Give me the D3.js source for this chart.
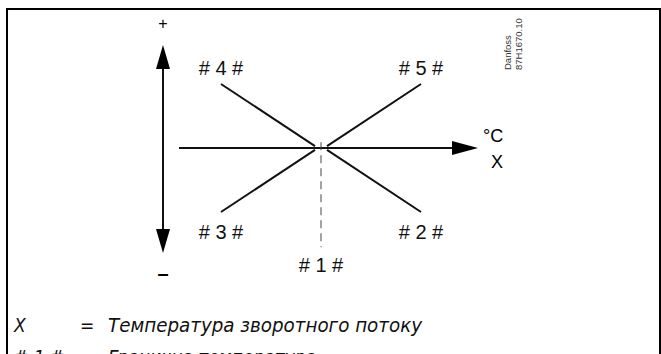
<!DOCTYPE html>
<html>
<head>
<meta charset="utf-8">
<script src="https://cdn.jsdelivr.net/npm/d3@7"></script>
<style>
  body { margin: 0; background: #fff; }
  svg { display: block; }
</style>
</head>
<body>
<div id="chart"></div>
<script>
// diagram values, in plot units (centre of the cross = 0,0)
const caseLabels = ["# 1 #", "# 2 #", "# 3 #", "# 4 #", "# 5 #"];
const caseLabelX = [0, 1, -1, -1, 1];
const caseLabelY = [-1.83, -1.31, -1.31, 1.25, 1.25];

// slope lines for #2..#5 : outer end -> inner end
const slopeOuterX = [1, -1, -1, 1];
const slopeOuterY = [-1, -1, 1, 1];
const slopeInnerX = [0.06, -0.06, -0.06, 0.06];
const slopeInnerY = [-0.03, -0.03, 0.03, 0.03];

const xAxisRange = [-1.42, 1.57];   // horizontal arrow (temperature)
const yAxisPos = -1.58;             // vertical arrow position
const yAxisRange = [-1.64, 1.61];
const dashRange = [0.09, -1.55];    // dashed line under #1
const signLabels = ["+", "–"];
const signY = [1.94, -1.95];

const legendKeys = ["X", "# 1 #"];
const legendTexts = ["Температура зворотного потоку", "Гранична температура"];

const width = 661, height = 354;

const svg = d3.select("#chart")
  .append("svg")
    .attr("width", width)
    .attr("height", height);

const x = d3.scaleLinear().domain([-1, 1]).range([221, 421]);
const y = d3.scaleLinear().domain([-1, 1]).range([212, 84]);

// frame
svg.append("path")
  .attr("d", `M7,${height + 5}V9H660V${height + 5}`)
  .attr("fill", "none")
  .attr("stroke", "#000")
  .attr("stroke-width", 2);

// horizontal arrow
const hx0 = x(xAxisRange[0]), hx1 = x(xAxisRange[1]), hy = y(0);
svg.append("line")
  .attr("x1", hx0).attr("x2", hx1 - 24)
  .attr("y1", hy).attr("y2", hy)
  .attr("stroke", "#111").attr("stroke-width", 2);
svg.append("path")
  .attr("d", `M${hx1},${hy}L${hx1 - 26},${hy - 7}L${hx1 - 26},${hy + 7}Z`)
  .attr("fill", "#000");

// vertical double arrow
const vx = x(yAxisPos), vy0 = y(yAxisRange[1]), vy1 = y(yAxisRange[0]);
svg.append("line")
  .attr("x1", vx).attr("x2", vx)
  .attr("y1", vy0 + 22).attr("y2", vy1 - 22)
  .attr("stroke", "#111").attr("stroke-width", 2);
svg.append("path")
  .attr("d", `M${vx},${vy0}L${vx - 7},${vy0 + 24}L${vx + 7},${vy0 + 24}Z`)
  .attr("fill", "#000");
svg.append("path")
  .attr("d", `M${vx},${vy1}L${vx - 7},${vy1 - 24}L${vx + 7},${vy1 - 24}Z`)
  .attr("fill", "#000");

// + and - signs
svg.selectAll(".sign")
  .data(signLabels)
  .join("text")
    .attr("class", "sign")
    .attr("x", vx)
    .attr("y", (d, i) => y(signY[i]))
    .attr("dy", "0.35em")
    .attr("text-anchor", "middle")
    .style("font-family", "Liberation Sans, Arial, sans-serif")
    .style("font-size", (d, i) => i === 0 ? "16px" : "20px")
    .style("font-weight", (d, i) => i === 0 ? "normal" : "bold")
    .text(d => d);

// dashed vertical under the centre
svg.append("line")
  .attr("x1", x(0)).attr("x2", x(0))
  .attr("y1", y(dashRange[0])).attr("y2", y(dashRange[1]))
  .attr("stroke", "#444")
  .attr("stroke-width", 1)
  .attr("stroke-dasharray", "8,5");

// slope lines
svg.selectAll(".slope")
  .data(slopeOuterX)
  .join("line")
    .attr("class", "slope")
    .attr("x1", (d, i) => x(slopeOuterX[i]))
    .attr("y1", (d, i) => y(slopeOuterY[i]))
    .attr("x2", (d, i) => x(slopeInnerX[i]))
    .attr("y2", (d, i) => y(slopeInnerY[i]))
    .attr("stroke", "#111")
    .attr("stroke-width", 2);

// case labels
svg.selectAll(".case")
  .data(caseLabels)
  .join("text")
    .attr("class", "case")
    .attr("x", (d, i) => x(caseLabelX[i]))
    .attr("y", (d, i) => y(caseLabelY[i]))
    .attr("dy", "0.35em")
    .attr("text-anchor", "middle")
    .style("font-family", "Liberation Sans, Arial, sans-serif")
    .style("font-size", "20px")
    .style("fill", "#111")
    .text(d => d);

// axis unit and name
svg.append("text")
  .attr("x", hx1 + 5).attr("y", hy - 6)
  .style("font-family", "Liberation Sans, Arial, sans-serif")
  .style("font-size", "18px")
  .text("°C");
svg.append("text")
  .attr("x", hx1 + 19).attr("y", hy + 7)
  .attr("dy", "0.71em")
  .attr("text-anchor", "middle")
  .style("font-family", "Liberation Sans, Arial, sans-serif")
  .style("font-size", "18px")
  .text("X");

// drawing reference, rotated
const ref = svg.append("text")
  .attr("transform", "translate(511,70) rotate(-90)")
  .style("font-family", "Liberation Sans, Arial, sans-serif")
  .style("font-size", "9.5px")
  .style("fill", "#333");
ref.append("tspan").attr("x", 0).attr("y", 0).text("Danfoss");
ref.append("tspan").attr("x", 0).attr("y", 11).text("87H1670.10");

// legend
const legend = svg.selectAll(".legend")
  .data(legendKeys)
  .join("g")
    .attr("class", "legend")
    .attr("transform", (d, i) => `translate(0,${332 + i * 32})`)
    .style("font-family", "Liberation Sans Narrow, DejaVu Sans Condensed, sans-serif")
    .style("font-style", "italic")
    .style("font-size", "19px")
    .style("fill", "#111");
legend.append("text").attr("x", 14).text(d => d);
legend.append("text").attr("x", 80).style("font-style", "normal").text("=");
legend.append("text")
  .attr("x", 108)
  .attr("textLength", (d, i) => i === 0 ? 314 : null)
  .attr("lengthAdjust", "spacingAndGlyphs")
  .text((d, i) => legendTexts[i]);
</script>
</body>
</html>
